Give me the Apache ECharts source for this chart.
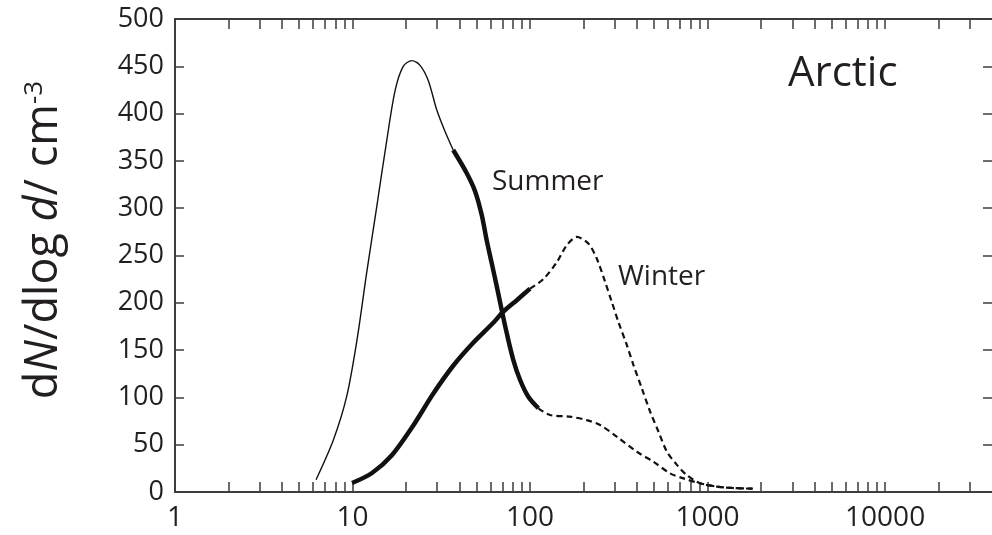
<!DOCTYPE html>
<html><head><meta charset="utf-8">
<script src="https://cdn.jsdelivr.net/npm/echarts@6/dist/echarts.min.js"></script>
<style>html,body{margin:0;padding:0;background:#fff}#c{width:992px;height:535px}</style>
</head><body><div id="c"></div>
<script>
// x tick positions (log axis) and labels
const xTickValues = [1,2,3,4,5,6,7,8,9,10,20,30,40,50,60,70,80,90,100,200,300,400,500,600,700,800,900,1000,2000,3000,4000,5000,6000,7000,8000,9000,10000,20000,30000];
const xLabelValues = [1,10,100,1000,10000];
// curves [diameter d, dN/dlog d]
const summerThin = [[6.23,13],[7.8,55],[9.27,101],[10.6,161],[12.0,231],[13.7,302],[15.6,372],[17.4,425],[19.3,450],[21.6,456],[24.0,451],[26.7,435],[29.8,404],[33.2,381],[36.9,361.5]];
const summerThick = [[36.9,361.5],[44.0,337],[49.0,318],[53.4,293],[57.0,266],[60.8,242],[65.0,217],[69.3,192],[73.9,168],[80.5,139.5],[87.9,118.4],[97.8,100.7],[111.4,88.5]];
const summerDashed = [[111.4,88.5],[129.6,81.4],[168,79.6],[208.6,76],[248,70.8],[307.8,58.5],[399,42.6],[495.6,32],[615,19.7],[731,14.4],[907,9.2],[1131,5.6],[1393,4.2],[1800,3.5]];
const winterThick = [[9.94,9.5],[12.88,20.1],[16.7,39.1],[21.9,69.8],[28.4,103.6],[36.8,133.2],[47.7,157.5],[61.9,178.6],[70.4,190.3],[84.5,203],[100,215]];
const winterDashed = [[100,215],[118.9,225.1],[141.3,242.7],[160.9,260.8],[183.2,269.6],[213,262.6],[237.5,246.8],[264.6,222.2],[288.6,201],[314.3,179.9],[350.6,155.5],[382,134.4],[425.8,109.8],[474.3,85.1],[528.4,64],[589,42.9],[670,28.9],[764,17.8],[907,9.2],[1131,5.6],[1393,4.2],[1800,3.5]];

const FONT = 'Open Sans';
const TXT = '#231f20';
const AX = '#3c3c3c';

const chart = echarts.init(document.getElementById('c'), null, {renderer:'canvas'});
const xCommon = {
  type:'log', logBase:10, min:1, max:40000, gridIndex:0,
  axisLine:{show:true, onZero:false, lineStyle:{color:AX, width:2}},
  axisTick:{show:true, inside:true, length:10, customValues:xTickValues, lineStyle:{color:AX, width:1.5}},
  splitLine:{show:false}, minorTick:{show:false}, minorSplitLine:{show:false}
};
const yCommon = {
  type:'value', min:0, max:500, interval:50, gridIndex:0,
  axisLine:{show:true, onZero:false, lineStyle:{color:AX, width:2}},
  axisTick:{show:true, inside:true, length:9, lineStyle:{color:AX, width:1.5}},
  splitLine:{show:false}
};
function lineSeries(data, width, type){
  return {type:'line', data:data, xAxisIndex:0, yAxisIndex:0, smooth:0.3, symbol:'none', silent:true,
    lineStyle:{color:'#111', width:width, type:type, cap:'butt'}, z:3};
}
chart.setOption({
  animation:false,
  backgroundColor:'#fff',
  grid:{left:175, right:0, top:19, bottom:43, containLabel:false},
  xAxis:[
    Object.assign({}, xCommon, {position:'bottom',
      axisLabel:{show:true, customValues:xLabelValues, margin:12, fontFamily:FONT, fontSize:28, color:TXT,
        formatter:v=>String(Math.round(v))}}),
    Object.assign({}, xCommon, {position:'top', axisLabel:{show:false}})
  ],
  yAxis:[
    Object.assign({}, yCommon, {position:'left',
      axisLabel:{show:true, margin:11, fontFamily:FONT, fontSize:27, color:TXT}}),
    Object.assign({}, yCommon, {position:'right', axisLine:{show:false, onZero:false}, axisLabel:{show:false}})
  ],
  series:[
    lineSeries(summerThin, 1.4, 'solid'),
    lineSeries(summerThick, 4.5, 'solid'),
    lineSeries(summerDashed, 2.2, [6,4]),
    lineSeries(winterThick, 4.5, 'solid'),
    lineSeries(winterDashed, 2.2, [6,4])
  ],
  graphic:[
    {type:'text', x:44, y:240, rotation:Math.PI/2, style:{
      text:'{n|d}{i|N}{n|/dlog }{i|d}{n|/ cm}{s|-3}', align:'center', verticalAlign:'middle',
      rich:{
        n:{fontFamily:FONT, fontSize:45, fill:TXT, fontWeight:'normal'},
        i:{fontFamily:FONT, fontSize:45, fill:TXT, fontStyle:'italic'},
        s:{fontFamily:FONT, fontSize:26, fill:TXT, verticalAlign:'top'}
      }}},
    {type:'text', x:788, y:74, style:{text:'Arctic', fontFamily:FONT, fontSize:42, fill:TXT, verticalAlign:'middle', align:'left'}},
    {type:'text', x:492, y:182, style:{text:'Summer', fontFamily:FONT, fontSize:28, fill:TXT, verticalAlign:'middle', align:'left'}},
    {type:'text', x:618, y:277, style:{text:'Winter', fontFamily:FONT, fontSize:28, fill:TXT, verticalAlign:'middle', align:'left'}}
  ]
});
</script></body></html>
